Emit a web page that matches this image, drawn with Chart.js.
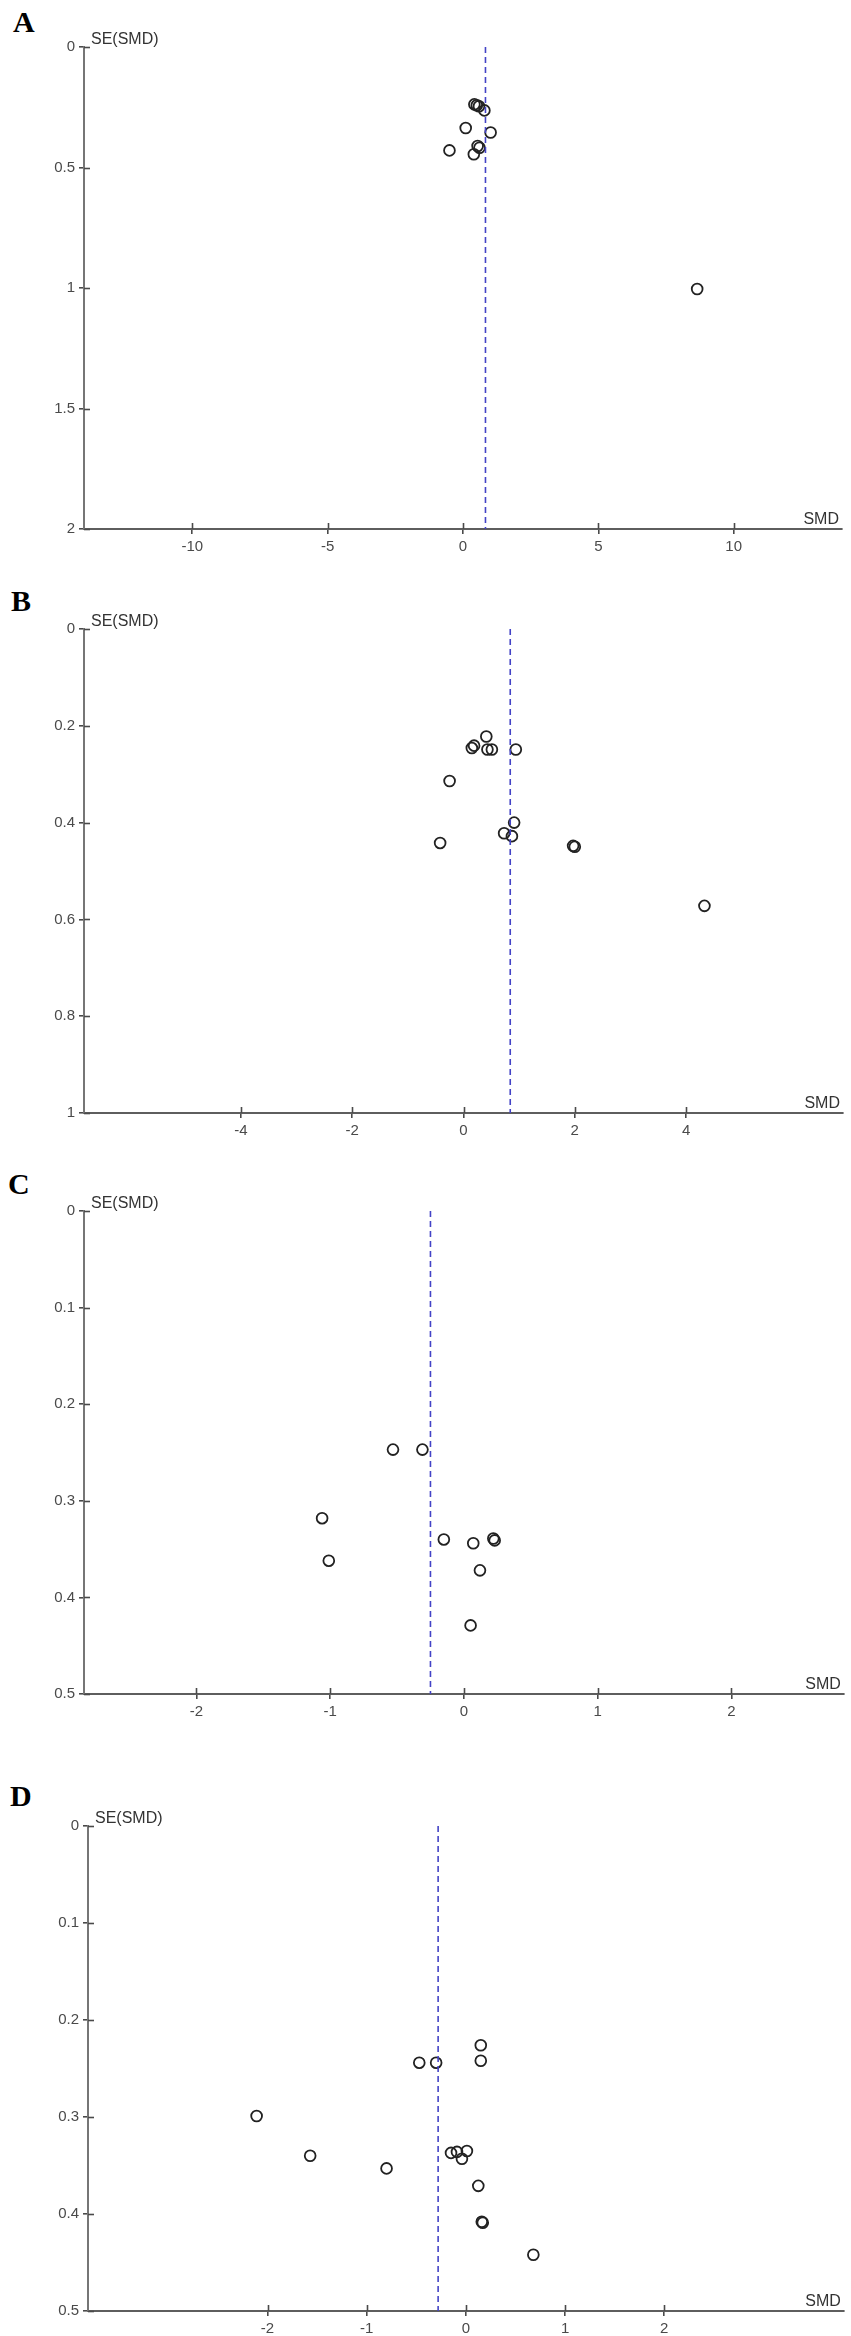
<!DOCTYPE html>
<html>
<head>
<meta charset="utf-8">
<title>Funnel plots</title>
<script src="https://cdn.jsdelivr.net/npm/chart.js@4.4.1/dist/chart.umd.min.js"></script>
<style>
  html, body { margin: 0; padding: 0; background: #fff; }
  body { width: 851px; height: 2336px; position: relative; overflow: hidden; }
  .panel { position: absolute; left: 0; width: 851px; }
  .letter {
    position: absolute;
    font: bold 30px "Liberation Serif", "Times New Roman", serif;
    line-height: 1;
    color: #000;
  }
</style>
</head>
<body>
<div class="letter" style="left:13px;top:7px">A</div>
<div class="letter" style="left:11px;top:586px">B</div>
<div class="letter" style="left:8px;top:1169px">C</div>
<div class="letter" style="left:10px;top:1781px">D</div>

<div class="panel" id="wrapA"><canvas id="chartA"></canvas></div>
<div class="panel" id="wrapB"><canvas id="chartB"></canvas></div>
<div class="panel" id="wrapC"><canvas id="chartC"></canvas></div>
<div class="panel" id="wrapD"><canvas id="chartD"></canvas></div>

<script>
// Panel A
const smdA = [0.42, 0.51, 0.59, 0.79, 0.10, 1.02, -0.50, 0.54, 0.61, 0.40, 8.65];
const seA = [0.238, 0.242, 0.246, 0.263, 0.336, 0.355, 0.429, 0.411, 0.418, 0.445, 1.004];
const pooledA = 0.83;
const xTicksA = [-10, -5, 0, 5, 10];
const yTicksA = [0, 0.5, 1, 1.5, 2];

// Panel B
const smdB = [0.41, 0.15, 0.19, 0.43, 0.51, 0.94, -0.25, 0.91, 0.73, 0.87, -0.42, 1.97, 2.0, 4.33];
const seB = [0.222, 0.246, 0.241, 0.249, 0.249, 0.249, 0.314, 0.400, 0.422, 0.428, 0.442, 0.448, 0.450, 0.572];
const pooledB = 0.84;
const xTicksB = [-4, -2, 0, 2, 4];
const yTicksB = [0, 0.2, 0.4, 0.6, 0.8, 1];

// Panel C
const smdC = [-0.53, -0.31, -1.06, -1.01, -0.15, 0.07, 0.22, 0.23, 0.12, 0.05];
const seC = [0.247, 0.247, 0.318, 0.362, 0.340, 0.344, 0.339, 0.341, 0.372, 0.429];
const pooledC = -0.25;
const xTicksC = [-2, -1, 0, 1, 2];
const yTicksC = [0, 0.1, 0.2, 0.3, 0.4, 0.5];

// Panel D
const smdD = [0.15, 0.15, -0.47, -0.30, -2.11, -1.57, -0.80, -0.15, -0.09, 0.01, -0.04, 0.125, 0.16, 0.17, 0.68];
const seD = [0.226, 0.242, 0.244, 0.244, 0.299, 0.340, 0.353, 0.337, 0.336, 0.335, 0.343, 0.371, 0.408, 0.409, 0.442];
const pooledD = -0.28;
const xTicksD = [-2, -1, 0, 1, 2];
const yTicksD = [0, 0.1, 0.2, 0.3, 0.4, 0.5];

const AXIS_FONT = '"Liberation Sans", Arial, sans-serif';
const PAD_TOP = 40;
const X_AXIS_H = 40;

// draws the inner half of the crossing tick marks and the two axis captions
const funnelDecor = {
    id: 'funnelDecor',
    afterDraw: function(chart) {
        const ctx = chart.ctx;
        const a = chart.chartArea;
        const x = chart.scales.x;
        const y = chart.scales.y;

        ctx.save();
        ctx.strokeStyle = '#4a4a4a';
        ctx.lineWidth = 1.6;
        x.ticks.forEach(function(t) {
            const px = Math.round(x.getPixelForValue(t.value)) + 0.5;
            ctx.beginPath();
            ctx.moveTo(px, a.bottom);
            ctx.lineTo(px, a.bottom - 6);
            ctx.stroke();
        });
        y.ticks.forEach(function(t) {
            const py = Math.round(y.getPixelForValue(t.value)) + 0.5;
            ctx.beginPath();
            ctx.moveTo(a.left, py);
            ctx.lineTo(a.left + 6, py);
            ctx.stroke();
        });

        ctx.fillStyle = '#333';
        ctx.font = '16px ' + AXIS_FONT;
        ctx.textBaseline = 'alphabetic';
        ctx.textAlign = 'left';
        ctx.fillText('SE(SMD)', a.left + 7, a.top - 3);
        ctx.textAlign = 'right';
        ctx.fillText('SMD', a.right - 3, a.bottom - 5);
        ctx.restore();
    }
};

function renderFunnel(p) {
    const wrap = document.getElementById('wrap' + p.id);
    const canvas = document.getElementById('chart' + p.id);
    const h = (p.bottom - p.top) + PAD_TOP + X_AXIS_H;

    wrap.style.top = (p.top - PAD_TOP) + 'px';
    wrap.style.height = h + 'px';
    canvas.width = 851;
    canvas.height = h;
    canvas.style.width = '851px';
    canvas.style.height = h + 'px';

    new Chart(canvas.getContext('2d'), {
        type: 'scatter',
        data: {
            datasets: [
                {
                    label: 'Pooled',
                    data: [{x: p.pooled, y: 0}, {x: p.pooled, y: p.yMax}],
                    showLine: true,
                    borderColor: '#4343c6',
                    borderWidth: 1.6,
                    borderDash: [6, 4],
                    pointRadius: 0,
                    fill: false,
                },
                {
                    label: 'Studies',
                    data: p.smd.map((v, i) => ({x: v, y: p.se[i]})),
                    pointStyle: 'circle',
                    pointRadius: 5.4,
                    borderWidth: 1.8,
                    borderColor: '#222',
                    backgroundColor: 'rgba(0, 0, 0, 0)',
                },
            ],
        },
        options: {
            responsive: false,
            animation: false,
            devicePixelRatio: 1,
            layout: {
                padding: {top: PAD_TOP, left: 0, right: 851 - p.right, bottom: 0},
            },
            plugins: {
                legend: {display: false},
                tooltip: {enabled: false},
            },
            scales: {
                x: {
                    type: 'linear',
                    min: -p.xMax,
                    max: p.xMax,
                    afterBuildTicks: function(scale) {
                        scale.ticks = p.xTicks.map(v => ({value: v}));
                    },
                    afterFit: function(scale) {
                        scale.height = X_AXIS_H;
                    },
                    border: {display: true, color: '#5e5e5e', width: 2},
                    grid: {
                        drawOnChartArea: false,
                        drawTicks: true,
                        tickLength: 5,
                        color: '#4a4a4a',
                        lineWidth: 1.6,
                    },
                    ticks: {
                        color: '#4a4a4a',
                        font: {family: AXIS_FONT, size: 15},
                        padding: 4,
                        maxRotation: 0,
                        callback: v => String(v),
                    },
                },
                y: {
                    type: 'linear',
                    reverse: true,
                    min: 0,
                    max: p.yMax,
                    afterBuildTicks: function(scale) {
                        scale.ticks = p.yTicks.map(v => ({value: v}));
                    },
                    afterFit: function(scale) {
                        scale.width = p.left;
                    },
                    border: {display: true, color: '#767676', width: 2},
                    grid: {
                        drawOnChartArea: false,
                        drawTicks: true,
                        tickLength: 5,
                        color: '#4a4a4a',
                        lineWidth: 1.6,
                    },
                    ticks: {
                        color: '#4a4a4a',
                        font: {family: AXIS_FONT, size: 15},
                        padding: 4,
                        callback: v => String(v),
                    },
                },
            },
        },
        plugins: [funnelDecor],
    });
}

renderFunnel({id: 'A', smd: smdA, se: seA, pooled: pooledA, xTicks: xTicksA, yTicks: yTicksA,
    xMax: 14, yMax: 2, left: 84, right: 842, top: 47, bottom: 529});
renderFunnel({id: 'B', smd: smdB, se: seB, pooled: pooledB, xTicks: xTicksB, yTicks: yTicksB,
    xMax: 6.82, yMax: 1, left: 84, right: 843, top: 629, bottom: 1113});
renderFunnel({id: 'C', smd: smdC, se: seC, pooled: pooledC, xTicks: xTicksC, yTicks: yTicksC,
    xMax: 2.84, yMax: 0.5, left: 84, right: 845, top: 1211, bottom: 1694});
renderFunnel({id: 'D', smd: smdD, se: seD, pooled: pooledD, xTicks: xTicksD, yTicks: yTicksD,
    xMax: 3.81, yMax: 0.5, left: 88, right: 848, top: 1826, bottom: 2311});
</script>
</body>
</html>
